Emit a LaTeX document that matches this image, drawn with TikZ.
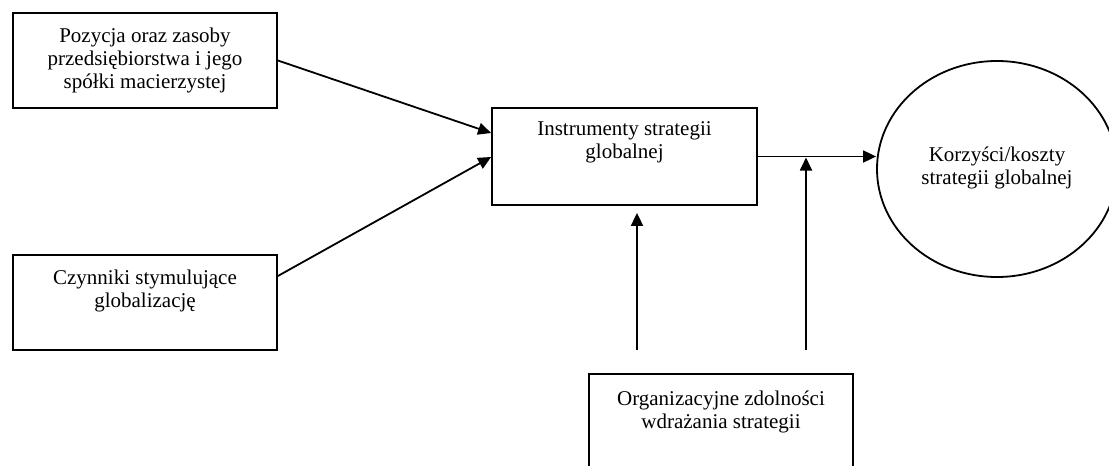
\documentclass[tikz,border=0pt]{standalone}
\usepackage{fontspec}
\setmainfont{Liberation Serif}
\usetikzlibrary{arrows.meta,shapes.geometric,calc}
\begin{document}
\begin{tikzpicture}[x=1pt,y=-1pt,
  box/.style={draw=black,line width=1.8pt,fill=none,inner sep=0pt},
  txt/.style={align=center,inner sep=0pt,anchor=north,font=\fontsize{21}{23}\selectfont},
  conn/.style={line width=1.8pt,-{Triangle[length=13pt,width=12pt]}},
  plain/.style={line width=1.8pt}]
\useasboundingbox (0,0) rectangle (1109,466);
\clip (0,0) rectangle (1109,466);
\node[box,minimum width=264pt,minimum height=95pt] (b1) at (145,60.5) {};
\node[txt] (t1) at ($(b1.north)+(0,16)$) {Pozycja oraz zasoby\\przedsiębiorstwa i jego\\spółki macierzystej};
\node[box,minimum width=264pt,minimum height=95pt] (b2) at (145,302.5) {};
\node[txt] (t2) at ($(b2.north)+(0,16)$) {Czynniki stymulujące\\globalizację};
\node[box,minimum width=265pt,minimum height=97pt] (b3) at (624.5,156.5) {};
\node[txt] (t3) at ($(b3.north)+(0,14)$) {Instrumenty strategii\\globalnej};
\node[box,minimum width=264pt,minimum height=120pt] (b4) at (721,434) {};
\node[txt] (t4) at ($(b4.north)+(0,18)$) {Organizacyjne zdolności\\wdrażania strategii};
\node[draw=black,line width=1.8pt,ellipse,minimum width=240pt,minimum height=216pt,inner sep=0pt] (c) at (997,169) {};
\node[align=center,inner sep=0pt,font=\fontsize{21}{23}\selectfont] (tc) at (997,168) {Korzyści/koszty\\strategii globalnej};
\coordinate (s1) at ($(b4.north)+(-84,-23)$);
\coordinate (s2) at ($(b4.north)+(85,-23)$);
\draw[conn] (b1.east) -- ($(b3.west)+(0,-23.5)$);
\draw[conn] ($(b2.east)+(0,-26.5)$) -- ($(b3.west)+(0,0.5)$);
\draw[conn] (b3.east) -- (b3.east -| c.west);
\draw[conn] (s1) -- ($(s1 |- b3.south)+(0,7)$);
\draw[conn] (s2) -- ($(s2 |- b3.east)+(0,1)$);
\end{tikzpicture}
\end{document}
